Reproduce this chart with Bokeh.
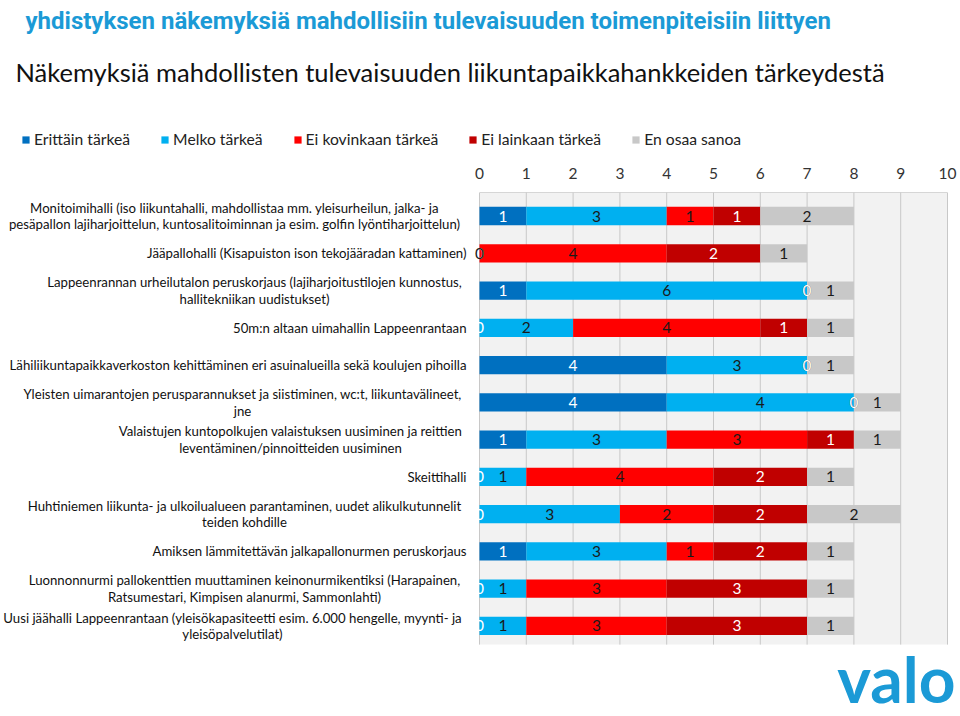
from bokeh.plotting import figure
from bokeh.models import Range1d, LinearAxis, FixedTicker, ColumnDataSource, Legend, LegendItem
from bokeh.layouts import column
from bokeh.core.properties import value
from bokeh.embed import file_html
from bokeh.resources import INLINE

# ---------------- data ----------------
title_main = "yhdistyksen näkemyksiä mahdollisiin tulevaisuuden toimenpiteisiin liittyen"
title_sub = "Näkemyksiä mahdollisten  tulevaisuuden liikuntapaikkahankkeiden tärkeydestä"
logo_text = "valo"

series = ["Erittäin tärkeä", "Melko tärkeä", "Ei kovinkaan tärkeä", "Ei lainkaan tärkeä", "En osaa sanoa"]
colors = ["#0070C0", "#00B0F0", "#FF0000", "#C00000", "#C8C8C8"]
label_colors = ["#FFFFFF", "#1A1A1A", "#1A1A1A", "#FFFFFF", "#1A1A1A"]

categories = [
    "Monitoimihalli (iso liikuntahalli, mahdollistaa mm. yleisurheilun, jalka- ja\npesäpallon lajiharjoittelun, kuntosalitoiminnan ja esim. golfin lyöntiharjoittelun)",
    "Jääpallohalli (Kisapuiston ison tekojääradan kattaminen)",
    "Lappeenrannan urheilutalon peruskorjaus (lajiharjoitustilojen kunnostus,\nhallitekniikan uudistukset)",
    "50m:n altaan uimahallin Lappeenrantaan",
    "Lähiliikuntapaikkaverkoston kehittäminen eri asuinalueilla sekä koulujen pihoilla",
    "Yleisten uimarantojen perusparannukset ja siistiminen, wc:t, liikuntavälineet,\njne",
    "Valaistujen kuntopolkujen valaistuksen uusiminen ja reittien\nleventäminen/pinnoitteiden uusiminen",
    "Skeittihalli",
    "Huhtiniemen liikunta- ja ulkoilualueen parantaminen, uudet alikulkutunnelit\nteiden kohdille",
    "Amiksen lämmitettävän jalkapallonurmen peruskorjaus",
    "Luonnonnurmi pallokenttien muuttaminen keinonurmikentiksi (Harapainen,\nRatsumestari, Kimpisen alanurmi, Sammonlahti)",
    "Uusi jäähalli Lappeenrantaan (yleisökapasiteetti esim. 6.000 hengelle, myynti- ja\nyleisöpalvelutilat)",
]

erittain_tarkea = [1, 0, 1, 0, 4, 4, 1, 0, 0, 1, 0, 0]
melko_tarkea = [3, 0, 6, 2, 3, 4, 3, 1, 3, 3, 1, 1]
ei_kovinkaan = [1, 4, 0, 4, 0, 0, 3, 4, 2, 1, 3, 3]
ei_lainkaan = [1, 2, 0, 1, 0, 0, 1, 2, 2, 2, 3, 3]
en_osaa_sanoa = [2, 1, 1, 1, 1, 1, 1, 1, 2, 1, 1, 1]

x_ticks = [0, 1, 2, 3, 4, 5, 6, 7, 8, 9, 10]

# ---------------- layout constants ----------------
FONT = "Lato"
PX_PER_UNIT = 46.8
X0_SCREEN = 479.0
ROW1_SCREEN = 215.5
ROW_PX = 37.27
W = 960
HEADER_H = 158
MAIN_H = 716 - HEADER_H
FRAME_TOP_SCREEN = 192.0
LABEL_RIGHT_SCREEN = 466
# screen x of the centre of each wrapped (two-line) label block, by row index
WRAPPED_CENTRE_SCREEN = {0: 234, 2: 254, 5: 242, 6: 290, 8: 244, 10: 244, 11: 232}

def sx_to_x(sx):
    return (sx - X0_SCREEN) / PX_PER_UNIT

def sy_to_row(sy):
    return 1 + (sy - ROW1_SCREEN) / ROW_PX

# ---------------- header figure ----------------
header = figure(width=W, height=HEADER_H, x_range=Range1d(0, W), y_range=Range1d(HEADER_H, 0),
                output_backend="svg", toolbar_location=None, min_border=0,
                x_axis_type=None, y_axis_type=None)
header.outline_line_color = None
header.grid.visible = False

header.text(x=[25], y=[20], text=[title_main], text_font=value("Roboto"), text_font_style="bold",
            text_font_size="24px", text_color="#1B9AD6", text_baseline="alphabetic")
header.text(x=[15], y=[71], text=[title_sub], text_font=value(FONT),
            text_font_size="25.5px", text_color="#111111", text_baseline="alphabetic")

items = []
for s, c in zip(series, colors):
    r = header.quad(left=[-60], right=[-50], top=[-60], bottom=[-50], fill_color=c, line_color=None)
    items.append(LegendItem(label=s, renderers=[r]))
legend = Legend(items=items, orientation="horizontal", location=(21, 10),
                glyph_width=9, glyph_height=9, label_height=9, label_standoff=4, spacing=30,
                padding=0, margin=0, border_line_color=None, background_fill_alpha=0,
                label_text_font=FONT, label_text_font_size="15.7px", label_text_color="#222222")
header.add_layout(legend)

# ---------------- main figure ----------------
x_start = sx_to_x(0)
x_end = sx_to_x(W)
row_top = sy_to_row(FRAME_TOP_SCREEN)
row_bottom = sy_to_row(HEADER_H + MAIN_H)
plot_bottom = 12.5

p = figure(width=W, height=MAIN_H, x_range=Range1d(x_start, x_end), y_range=Range1d(row_bottom, row_top),
           output_backend="svg", toolbar_location=None,
           min_border_left=0, min_border_right=0, min_border_bottom=0,
           min_border_top=int(FRAME_TOP_SCREEN - HEADER_H),
           x_axis_type=None, y_axis_type=None)
p.outline_line_color = None
p.grid.visible = False
p.background_fill_color = "white"

ax = LinearAxis(ticker=FixedTicker(ticks=x_ticks))
ax.axis_line_color = None
ax.major_tick_in = 0
ax.major_tick_out = 0
ax.minor_tick_line_color = None
ax.major_label_standoff = 14
ax.major_label_text_font = FONT
ax.major_label_text_font_size = "15.5px"
ax.major_label_text_color = "#333333"
p.add_layout(ax, "above")

# plot area background + gridlines + top axis line
p.quad(left=[x_ticks[0]], right=[x_ticks[-1]], top=[row_top], bottom=[plot_bottom],
       fill_color="#F2F2F2", line_color=None)
p.segment(x0=x_ticks, x1=x_ticks, y0=[row_top] * len(x_ticks), y1=[plot_bottom] * len(x_ticks),
          line_color="#C8C8C8", line_width=1)
p.segment(x0=[x_ticks[0]], x1=[x_ticks[-1]], y0=[row_top], y1=[row_top], line_color="#B0B0B0", line_width=1)

rows = list(range(1, len(categories) + 1))
vals = [erittain_tarkea, melko_tarkea, ei_kovinkaan, ei_lainkaan, en_osaa_sanoa]
keys = ["s0", "s1", "s2", "s3", "s4"]
src = ColumnDataSource(dict(y=rows, **{k: v for k, v in zip(keys, vals)}))
p.hbar_stack(keys, y="y", height=0.49, color=colors, line_color=None, source=src)

# value labels
cum = [0] * len(rows)
for v, lc in zip(vals, label_colors):
    xc = [c + vv / 2 for c, vv in zip(cum, v)]
    p.text(x=xc, y=rows, text=[str(vv) for vv in v], text_font=value(FONT), text_font_size="15.5px",
           text_color=lc, text_align="center", text_baseline="middle")
    cum = [c + vv for c, vv in zip(cum, v)]

# category labels (wrapped labels: lines centred on their block)
LINE_PX = 16.5
right_x = sx_to_x(LABEL_RIGHT_SCREEN)
lx, ly, lt, la = [], [], [], []
for idx, (r, cat) in enumerate(zip(rows, categories)):
    lines = cat.split("\n")
    if len(lines) == 1:
        lx.append(right_x); ly.append(r); lt.append(cat); la.append("right")
    else:
        cx = sx_to_x(WRAPPED_CENTRE_SCREEN[idx])
        n = len(lines)
        for i, l in enumerate(lines):
            off = (i - (n - 1) / 2) * LINE_PX / ROW_PX
            lx.append(cx); ly.append(r + off); lt.append(l); la.append("center")
p.text(x=lx, y=ly, text=lt, text_align=la, text_baseline="middle", text_font=value(FONT),
       text_font_size="13.2px", text_color="#111111")

# logo
p.text(x=[sx_to_x(955)], y=[sy_to_row(716)], text=[logo_text], text_font=value(FONT), text_font_style="bold",
       text_font_size="64px", text_color="#1B9AD6", text_align="right", text_baseline="bottom")

layout = column(header, p, spacing=0)
open("out.html", "w").write(file_html(layout, INLINE))
